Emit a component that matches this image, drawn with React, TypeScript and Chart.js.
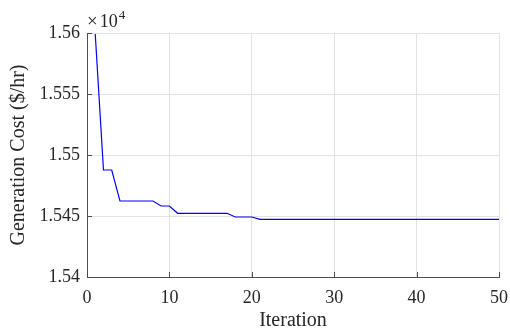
import React, { useEffect, useRef } from "react";
import { Chart, registerables } from "chart.js";

Chart.register(...registerables);

const iterations = Array.from({ length: 50 }, (_, i) => i + 1);
const cost = [
  1.55992, 1.54877, 1.54877, 1.54623, 1.54623, 1.54623, 1.54623, 1.54623, 1.54582, 1.54582,
  1.54522, 1.54522, 1.54522, 1.54522, 1.54522, 1.54522, 1.54522, 1.54492, 1.54492, 1.54492,
  1.54473, 1.54473, 1.54473, 1.54473, 1.54473, 1.54473, 1.54473, 1.54473, 1.54473, 1.54473,
  1.54473, 1.54473, 1.54473, 1.54473, 1.54473, 1.54473, 1.54473, 1.54473, 1.54473, 1.54473,
  1.54473, 1.54473, 1.54473, 1.54473, 1.54473, 1.54473, 1.54473, 1.54473, 1.54473, 1.54473,
];
const xTicks = [0, 10, 20, 30, 40, 50];
const yTicks = [1.54, 1.545, 1.55, 1.555, 1.56];
const xTitle = "Iteration";
const yTitle = "Generation Cost ($/hr)";
const exponentSign = "×";
const exponentBase = "10";
const exponentPower = "4";

const FONT = "'Liberation Serif', 'Times New Roman', serif";
const TEXT = "#262626";
const AXIS = "#4d4d4d";

const decorPlugin = {
  id: "decor",
  afterDraw(chart: any) {
    const { ctx, chartArea, scales } = chart;
    ctx.save();
    ctx.strokeStyle = AXIS;
    ctx.lineWidth = 1;
    ctx.beginPath();
    for (const v of yTicks) {
      const y = Math.round(scales.y.getPixelForValue(v)) + 0.5;
      ctx.moveTo(chartArea.left, y);
      ctx.lineTo(chartArea.left + 5, y);
    }
    for (const v of xTicks) {
      const x = Math.round(scales.x.getPixelForValue(v)) + 0.5;
      ctx.moveTo(x, chartArea.bottom);
      ctx.lineTo(x, chartArea.bottom - 5);
    }
    ctx.stroke();
    ctx.fillStyle = TEXT;
    ctx.textBaseline = "alphabetic";
    ctx.textAlign = "left";
    ctx.font = `19px ${FONT}`;
    let bx = chartArea.left;
    const by = chartArea.top - 6;
    ctx.fillText(exponentSign, bx, by);
    bx += ctx.measureText(exponentSign).width + 2;
    ctx.font = `18px ${FONT}`;
    ctx.fillText(exponentBase, bx, by);
    bx += ctx.measureText(exponentBase).width + 1;
    ctx.font = `13px ${FONT}`;
    ctx.fillText(exponentPower, bx, by - 8);
    ctx.restore();
  },
};

export default function App() {
  const ref = useRef<HTMLCanvasElement | null>(null);
  useEffect(() => {
    if (!ref.current) return;
    const chart = new Chart(ref.current, {
      type: "line",
      data: {
        datasets: [
          {
            data: iterations.map((x, i) => ({ x, y: cost[i] })),
            borderColor: "#0000ff",
            borderWidth: 1.2,
            pointRadius: 0,
            tension: 0,
            fill: false,
          },
        ],
      },
      options: {
        animation: false,
        responsive: true,
        maintainAspectRatio: false,
        layout: { padding: { top: 33, right: 11, left: 0, bottom: 0 } },
        plugins: { legend: { display: false }, tooltip: { enabled: false } },
        scales: {
          x: {
            type: "linear",
            min: 0,
            max: 50,
            afterBuildTicks: (s: any) => {
              s.ticks = xTicks.map((v) => ({ value: v }));
            },
            afterFit: (s: any) => {
              s.height = 56;
              s.paddingLeft = 0;
              s.paddingRight = 0;
            },
            grid: { color: "#e3e3e3", drawTicks: false, lineWidth: 1 },
            border: { display: true, color: AXIS, width: 1 },
            ticks: {
              padding: 10,
              color: TEXT,
              font: { family: FONT, size: 18 },
              maxRotation: 0,
            },
            title: {
              display: true,
              text: xTitle,
              color: TEXT,
              font: { family: FONT, size: 20 },
              padding: { top: 0, bottom: 0 },
            },
          },
          y: {
            type: "linear",
            min: 1.54,
            max: 1.56,
            afterBuildTicks: (s: any) => {
              s.ticks = yTicks.map((v) => ({ value: v }));
            },
            afterFit: (s: any) => {
              s.width = 87;
            },
            grid: { color: "#e3e3e3", drawTicks: false, lineWidth: 1 },
            border: { display: true, color: AXIS, width: 1 },
            ticks: {
              padding: 7,
              color: TEXT,
              font: { family: FONT, size: 18 },
              callback: (v: any) => String(Number(v)),
            },
            title: {
              display: true,
              text: yTitle,
              color: TEXT,
              font: { family: FONT, size: 20 },
              padding: { top: 7, bottom: 0 },
            },
          },
        },
      },
      plugins: [decorPlugin],
    } as any);
    return () => chart.destroy();
  }, []);
  return (
    <div style={{ position: "absolute", left: 0, top: 0, width: 510, height: 333, background: "#fff" }}>
      <canvas ref={ref} />
    </div>
  );
}
